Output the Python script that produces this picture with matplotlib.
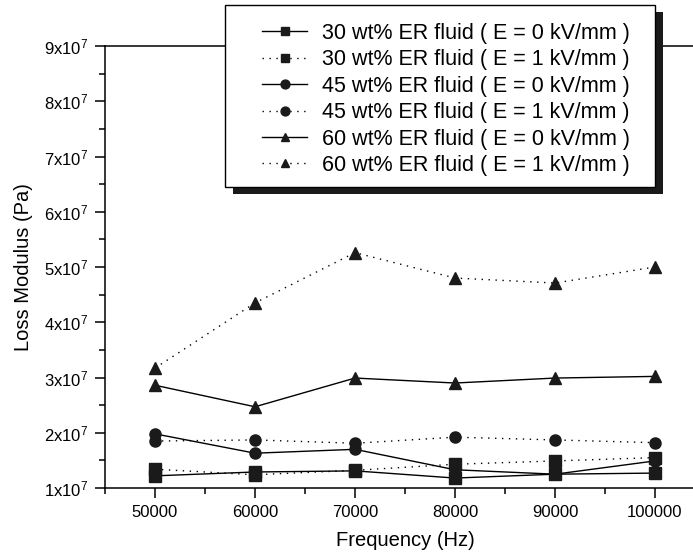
import matplotlib
matplotlib.use("Agg")
import matplotlib.pyplot as plt
from matplotlib.patches import Rectangle
from matplotlib.transforms import IdentityTransform
from matplotlib.ticker import MultipleLocator, FuncFormatter

plt.rcParams['font.family'] = ['Liberation Sans', 'DejaVu Sans']

freq = [50000, 60000, 70000, 80000, 90000, 100000]
wt30_e0 = [1.22e7, 1.29e7, 1.31e7, 1.18e7, 1.25e7, 1.27e7]
wt30_e1 = [1.34e7, 1.24e7, 1.32e7, 1.43e7, 1.49e7, 1.55e7]
wt45_e0 = [1.98e7, 1.63e7, 1.70e7, 1.33e7, 1.25e7, 1.49e7]
wt45_e1 = [1.85e7, 1.87e7, 1.81e7, 1.92e7, 1.87e7, 1.82e7]
wt60_e0 = [2.86e7, 2.47e7, 2.99e7, 2.90e7, 2.99e7, 3.02e7]
wt60_e1 = [3.17e7, 4.35e7, 5.26e7, 4.80e7, 4.71e7, 5.00e7]

labels = [
    "30 wt% ER fluid ( E = 0 kV/mm )",
    "30 wt% ER fluid ( E = 1 kV/mm )",
    "45 wt% ER fluid ( E = 0 kV/mm )",
    "45 wt% ER fluid ( E = 1 kV/mm )",
    "60 wt% ER fluid ( E = 0 kV/mm )",
    "60 wt% ER fluid ( E = 1 kV/mm )",
]
series = [wt30_e0, wt30_e1, wt45_e0, wt45_e1, wt60_e0, wt60_e1]
markers = ['s', 's', 'o', 'o', '^', '^']
styles = ['-', (0, (1, 4)), '-', (0, (1, 4)), '-', (0, (1, 4))]

W, H = 693, 558
fig = plt.figure(figsize=(W / 100, H / 100), dpi=100)
left, bottom, top = 105 / W, (H - 488) / H, (H - 46) / H
ax = fig.add_axes([left, bottom, 600 / W, top - bottom])

for y, m, ls, lab in zip(series, markers, styles, labels):
    ax.plot(freq, y, color='black', linestyle=ls, linewidth=1.0,
            marker=m, markersize=8, markerfacecolor='#1a1a1a',
            markeredgecolor='#1a1a1a', label=lab)

ax.set_xlim(45000, 105000)
ax.set_ylim(1e7, 9e7)
ax.xaxis.set_major_locator(MultipleLocator(10000))
ax.xaxis.set_minor_locator(MultipleLocator(5000))
ax.yaxis.set_major_locator(MultipleLocator(1e7))
ax.yaxis.set_minor_locator(MultipleLocator(5e6))
ax.yaxis.set_major_formatter(FuncFormatter(
    lambda v, p: r'$\mathregular{%dx10^{7}}$' % round(v / 1e7)))
ax.xaxis.set_major_formatter(FuncFormatter(lambda v, p: '%d' % v))

ax.spines['right'].set_visible(False)
for s in ['left', 'bottom', 'top']:
    ax.spines[s].set_linewidth(1.1)
ax.tick_params(which='major', direction='out', length=7, width=1.1,
               labelsize=12, pad=5)
ax.tick_params(which='minor', direction='out', length=4, width=1.1)
ax.tick_params(top=False, right=False, which='both')

ax.set_xlabel('Frequency (Hz)', fontsize=14.5, labelpad=8)
ax.set_ylabel('Loss Modulus (Pa)', fontsize=14.5, labelpad=8)

# legend box (image pixel coords, origin top-left)
bx0, by0, bx1, by1 = 225, 5, 655, 187
shadow = Rectangle((bx0 + 8, H - by1 - 7), bx1 - bx0, by1 - by0,
                   transform=IdentityTransform(), facecolor='#1a1a1a',
                   edgecolor='none', zorder=8)
frame = Rectangle((bx0, H - by1), bx1 - bx0, by1 - by0,
                  transform=IdentityTransform(), facecolor='white',
                  edgecolor='black', linewidth=1.0, zorder=9)
for p in (shadow, frame):
    p.set_figure(fig)
    fig.patches.append(p)

handles, labs = ax.get_legend_handles_labels()
leg = fig.legend(handles, labs, loc='upper left',
                 bbox_to_anchor=(262 / W, 1 - 23 / H), borderaxespad=0,
                 fontsize=15.5, frameon=False, markerscale=0.8,
                 handlelength=2.1, labelspacing=0.25, borderpad=0,
                 handletextpad=0.7)
leg.set_zorder(10)

fig.savefig('out.png', dpi=100)
